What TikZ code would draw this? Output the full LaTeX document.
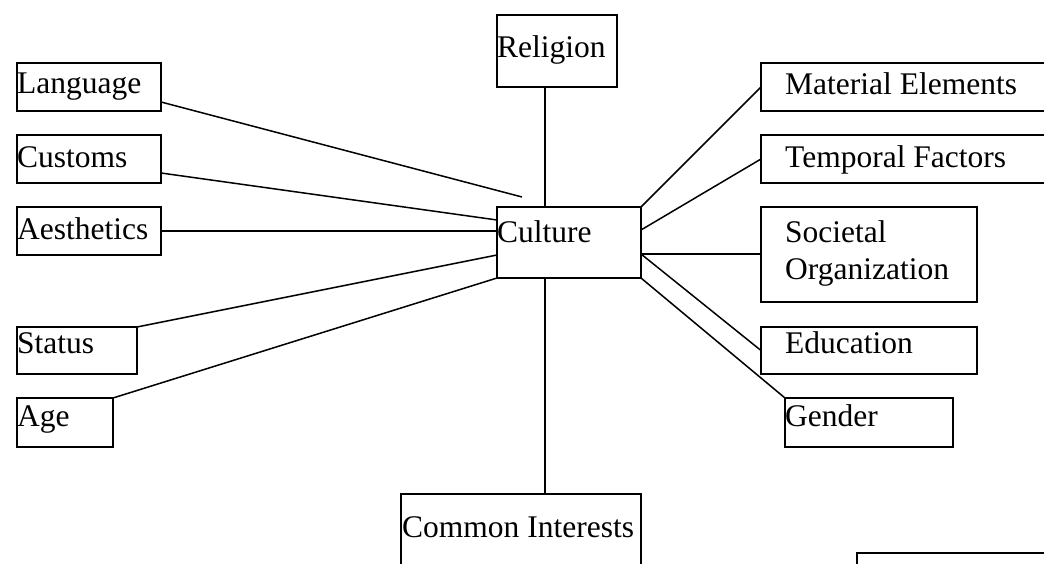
\documentclass[tikz,border=0pt]{standalone}
\usepackage{fontspec}
\setmainfont{Liberation Serif}
\usetikzlibrary{calc}

\begin{document}
\begin{tikzpicture}[x=1pt, y=-1pt,
    box/.style={draw, line width=1.5pt, anchor=north west, inner sep=0pt, outer sep=0pt},
    lbl/.style={anchor=base west, inner sep=0pt, font=\fontsize{31.5}{36}\selectfont},
    link/.style={line width=1.5pt}]
  \clip (0,0) rectangle (1044,564);
  % boxes
  \node[box, minimum width=120, minimum height=72] at (497,15)  (rel)  {};
  \node[box, minimum width=144, minimum height=48] at (17,63)   (lang) {};
  \node[box, minimum width=144, minimum height=48] at (17,135)  (cust) {};
  \node[box, minimum width=144, minimum height=48] at (17,207)  (aest) {};
  \node[box, minimum width=120, minimum height=47] at (17,327)  (stat) {};
  \node[box, minimum width=96,  minimum height=49] at (17,398)  (age)  {};
  \node[box, minimum width=144, minimum height=71] at (497,207) (cult) {};
  \node[box, minimum width=300, minimum height=48] at (761,63)  (mat)  {};
  \node[box, minimum width=300, minimum height=48] at (761,135) (temp) {};
  \node[box, minimum width=216, minimum height=95] at (761,207) (soc)  {};
  \node[box, minimum width=216, minimum height=47] at (761,327) (edu)  {};
  \node[box, minimum width=168, minimum height=49] at (785,398) (gend) {};
  \node[box, minimum width=240, minimum height=100] at (401,494) (comm) {};
  \node[box, minimum width=250, minimum height=100] at (857,553) (spare) {};
  % texts
  \node[lbl] at (497,58)  (reltxt)  {Religion};
  \node[lbl] at (17,94)   (langtxt) {Language};
  \node[lbl] at (17,168)  (custtxt) {Customs};
  \node[lbl] at (17,240)  (aesttxt) {Aesthetics};
  \node[lbl] at (17,353)  (stattxt) {Status};
  \node[lbl] at (17,426)  (agetxt)  {Age};
  \node[lbl] at (497,242) (culttxt) {Culture};
  \node[lbl] at (785,95)  (mattxt)  {Material Elements};
  \node[lbl] at (785,168) (temptxt) {Temporal Factors};
  \node[lbl] at (785,243) (soctxta) {Societal};
  \node[lbl] at (785,279) (soctxtb) {Organization};
  \node[lbl] at (785,353) (edutxt)  {Education};
  \node[lbl] at (785,426) (gendtxt) {Gender};
  \node[lbl] at (402,537) (commtxt) {Common Interests};
  % spokes
  \coordinate (langend) at (522,197);
  \coordinate (axis) at (545,0);
  \coordinate (socsrc) at ([yshift=24pt]cult.south east);
  \draw[link] ([yshift=9pt]lang.south east) -- (langend);
  \draw[link] ([yshift=10pt]cust.south east) -- ([yshift=-13pt]cult.north west);
  \draw[link] (aest.east) -- (aest.east -| cult.west);
  \draw[link] (stat.north east) -- ([yshift=23pt]cult.south west);
  \draw[link] (age.north east) -- (cult.south west);
  \draw[link] (rel.south -| axis) -- (cult.north -| axis);
  \draw[link] (cult.south -| axis) -- (comm.north -| axis);
  \draw[link] (mat.west) -- (cult.north east);
  \draw[link] (temp.west) -- ([yshift=-23pt]cult.north east);
  \draw[link] (socsrc) -- (socsrc -| soc.west);
  \draw[link] (socsrc) -- (edu.west);
  \draw[link] (cult.south east) -- (gend.north west);
\end{tikzpicture}
\end{document}
